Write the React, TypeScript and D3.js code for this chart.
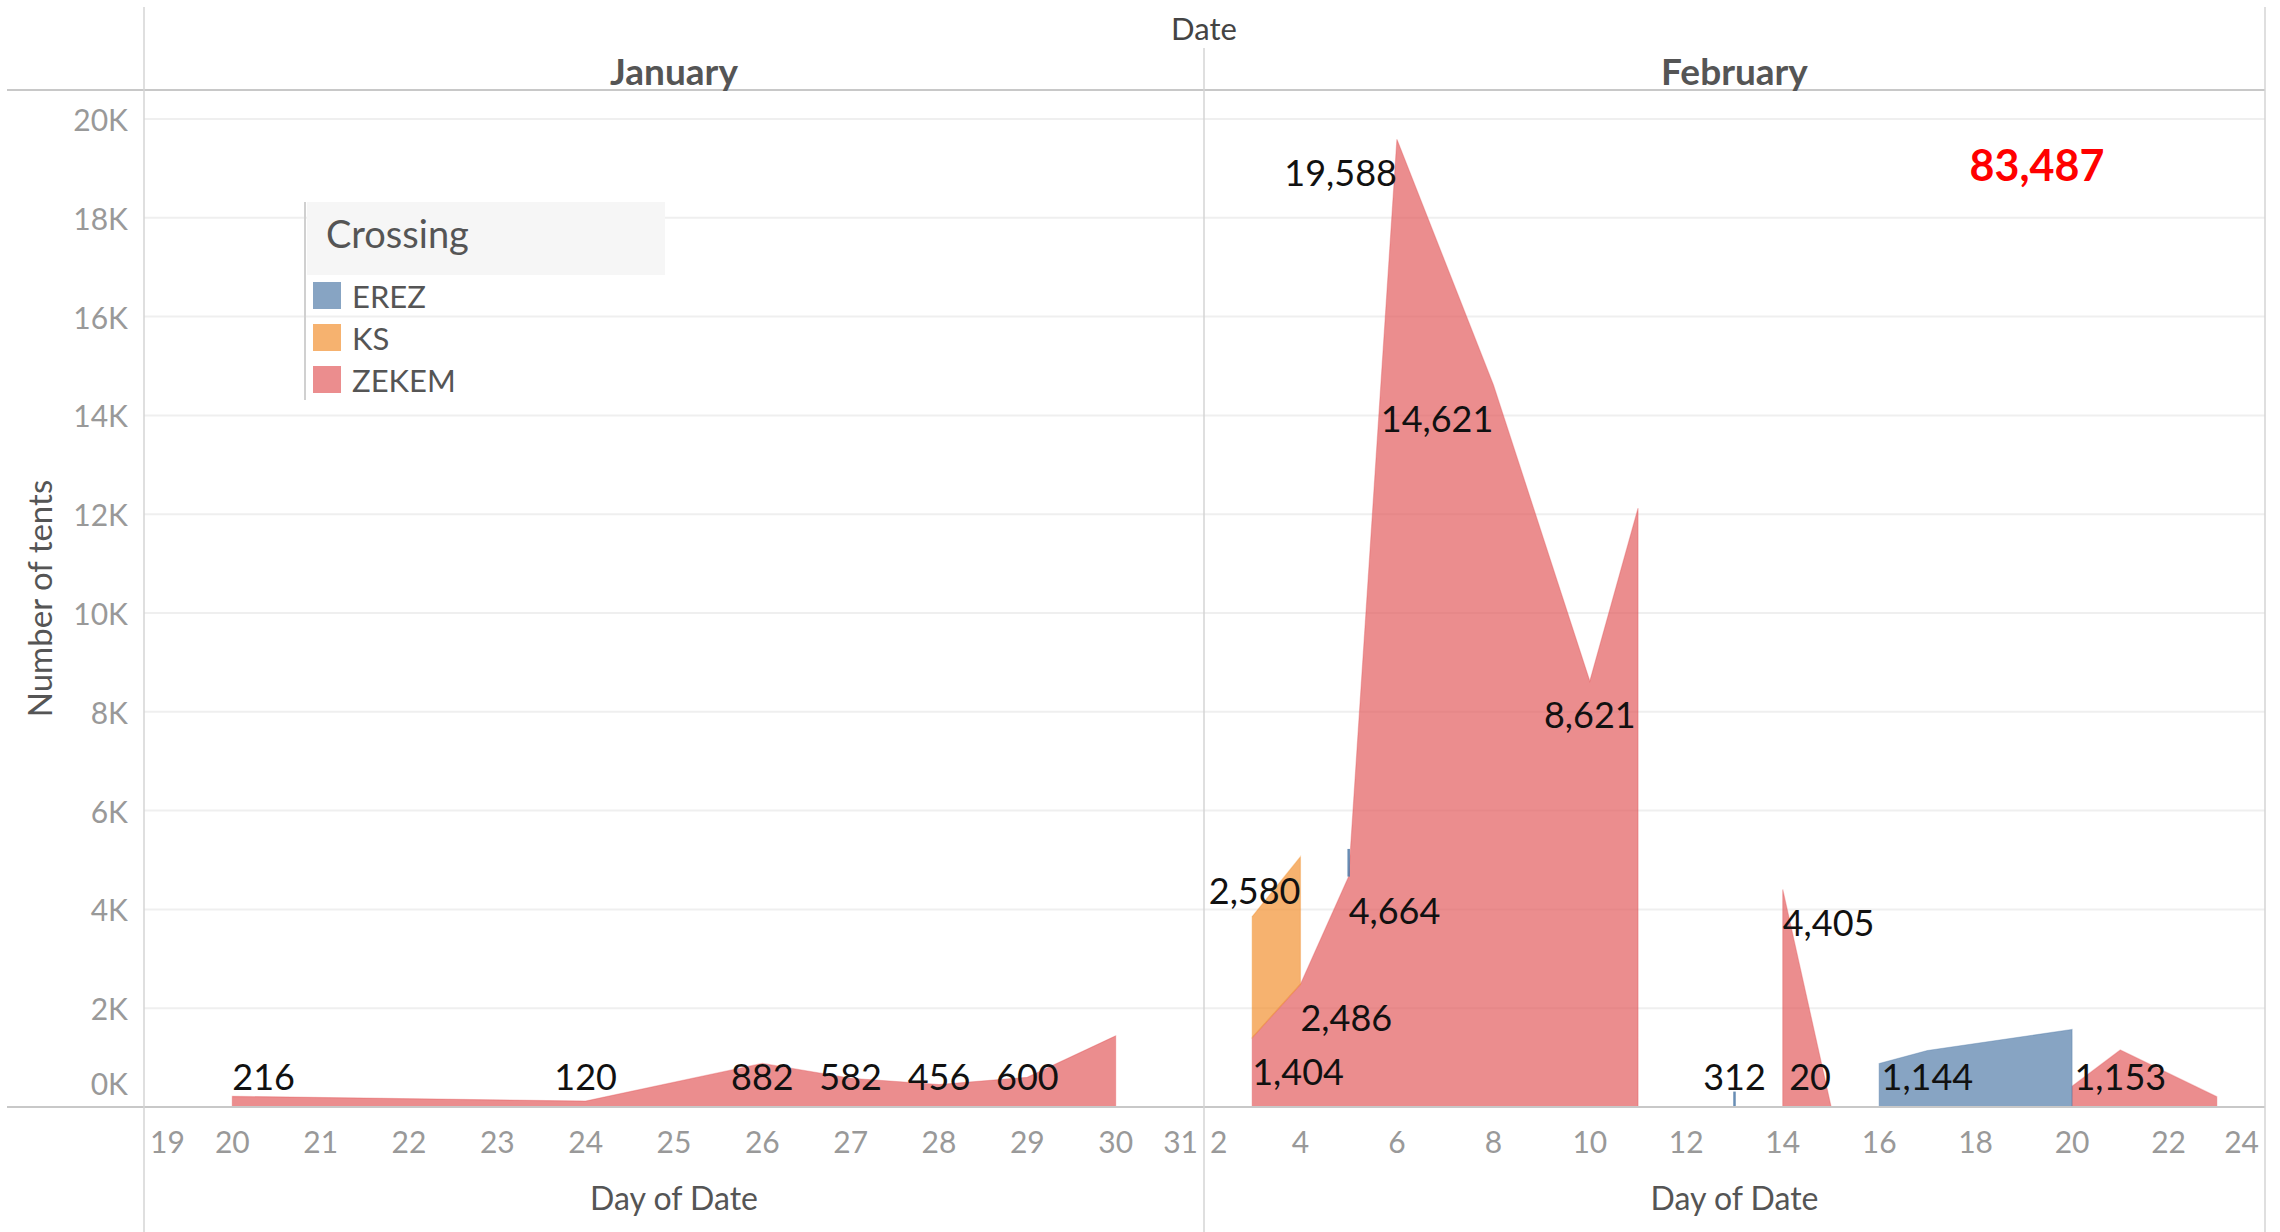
import React, { useEffect } from 'react';
import * as d3 from 'd3';

// ---------- data ----------
const SERIES = ['EREZ', 'KS', 'ZEKEM'];
const SERIES_COLORS = ['#4e79a7', '#f28e2b', '#e15759'];
const STACK_ORDER = ['ZEKEM', 'KS', 'EREZ']; // bottom to top

const MONTHS = ['January', 'February'];
const JAN_DOMAIN = [19, 31];
const FEB_DOMAIN = [2, 24];
const JAN_TICKS = [19, 20, 21, 22, 23, 24, 25, 26, 27, 28, 29, 30, 31];
const FEB_TICKS = [2, 4, 6, 8, 10, 12, 14, 16, 18, 20, 22, 24];
const Y_TICKS = [0, 2000, 4000, 6000, 8000, 10000, 12000, 14000, 16000, 18000, 20000];

// [day, tents] — each inner array is one unbroken area segment
const ZEKEM_JAN = [[[20, 216], [24, 120], [26, 882], [27, 582], [28, 456], [29, 600], [30, 1440]]];
const ZEKEM_FEB = [
  [[3, 1404], [4, 2486], [5, 4664], [6, 19588], [8, 14621], [10, 8621], [11, 12120]],
  [[14, 4405], [15, 20]],
  [[20, 420], [21, 1153], [23, 210]],
];
const KS_FEB = [[[3, 2450], [4, 2580]]];
const EREZ_FEB = [[[5, 560]], [[13, 312]], [[16, 880], [17, 1144], [20, 1570]]];

const TOTAL_TENTS = 83487;

// which points carry a value label: [series, month, day, anchor]
const LABELS = [
  ['ZEKEM', 'January', 20, 'start'],
  ['ZEKEM', 'January', 24, 'middle'],
  ['ZEKEM', 'January', 26, 'middle'],
  ['ZEKEM', 'January', 27, 'middle'],
  ['ZEKEM', 'January', 28, 'middle'],
  ['ZEKEM', 'January', 29, 'middle'],
  ['ZEKEM', 'February', 3, 'start'],
  ['ZEKEM', 'February', 4, 'start'],
  ['ZEKEM', 'February', 5, 'start'],
  ['ZEKEM', 'February', 6, 'end'],
  ['ZEKEM', 'February', 8, 'end'],
  ['ZEKEM', 'February', 10, 'middle'],
  ['ZEKEM', 'February', 14, 'start'],
  ['ZEKEM', 'February', 15, 'end'],
  ['ZEKEM', 'February', 21, 'middle'],
  ['KS', 'February', 4, 'end'],
  ['EREZ', 'February', 13, 'middle'],
  ['EREZ', 'February', 17, 'middle'],
];

// ---------- layout ----------
const W = 2280;
const H = 1232;
const LEFT = 144;
const MID = 1204;
const RIGHT = 2265;
const BASE_Y = 1107;
const TOP_Y = 119;
const HEADER_Y = 90;
const FONT = "Lato, 'Open Sans', 'DejaVu Sans', sans-serif";

type Seg = { series: string; month: string; pts: number[][] };

const segments: Seg[] = [
  ...ZEKEM_JAN.map((p) => ({ series: 'ZEKEM', month: 'January', pts: p })),
  ...ZEKEM_FEB.map((p) => ({ series: 'ZEKEM', month: 'February', pts: p })),
  ...KS_FEB.map((p) => ({ series: 'KS', month: 'February', pts: p })),
  ...EREZ_FEB.map((p) => ({ series: 'EREZ', month: 'February', pts: p })),
];

function findPoint(series: string, month: string, day: number) {
  for (const s of segments) {
    if (s.series !== series || s.month !== month) continue;
    const i = s.pts.findIndex((p) => p[0] === day);
    if (i >= 0) return { seg: s, i };
  }
  return null;
}

function baseOf(series: string, month: string, day: number): number {
  const own = findPoint(series, month, day);
  const k = STACK_ORDER.indexOf(series);
  let b = 0;
  for (let j = 0; j < k; j++) {
    const lower = findPoint(STACK_ORDER[j], month, day);
    if (!lower) continue;
    const ownEnds = own && own.i === own.seg.pts.length - 1 && own.seg.pts.length > 1;
    const lowerStarts = lower.i === 0 && lower.seg.pts.length > 1;
    if (ownEnds && lowerStarts) continue; // segments only touch at the boundary
    b += lower.seg.pts[lower.i][1];
  }
  return b;
}

const y = d3.scaleLinear().domain([0, 20000]).range([BASE_Y, TOP_Y]);
const xScales: Record<string, d3.ScaleLinear<number, number>> = {
  January: d3.scaleLinear().domain(JAN_DOMAIN).range([LEFT, MID]),
  February: d3.scaleLinear().domain(FEB_DOMAIN).range([MID, RIGHT]),
};
const color = d3.scaleOrdinal<string, string>().domain(SERIES).range(SERIES_COLORS);
const fmt = d3.format(',');
const fmtK = (v: number) => `${v / 1000}K`;

export default function App() {
  useEffect(() => {
    document.body.style.margin = '0';
  }, []);

  const stackedSegs = segments.map((s) => ({
    ...s,
    rows: s.pts.map(([day, v]) => {
      const b = baseOf(s.series, s.month, day);
      return { day, v, b };
    }),
  }));
  // draw order: bottom of the stack first
  stackedSegs.sort((a, b) => STACK_ORDER.indexOf(a.series) - STACK_ORDER.indexOf(b.series));

  const monthTicks: Record<string, number[]> = { January: JAN_TICKS, February: FEB_TICKS };
  const monthCenters: Record<string, number> = { January: (LEFT + MID) / 2, February: (MID + RIGHT) / 2 };

  return (
    <svg width={W} height={H} style={{ position: 'absolute', left: 0, top: 0, background: '#fff' }} fontFamily={FONT}>
      <rect x={0} y={0} width={W} height={H} fill="#fff" />

      {/* gridlines */}
      {Y_TICKS.filter((t) => t > 0).map((t) => (
        <line key={t} x1={LEFT} x2={RIGHT} y1={y(t)} y2={y(t)} stroke="#efefef" strokeWidth={2} />
      ))}

      {/* areas */}
      {stackedSegs.map((s, i) => {
        const x = xScales[s.month];
        const c = color(s.series);
        if (s.rows.length === 1) {
          const r = s.rows[0];
          return (
            <line key={i} x1={x(r.day)} x2={x(r.day)} y1={y(r.b)} y2={y(r.b + r.v)} stroke={c} strokeOpacity={0.85} strokeWidth={2.5} />
          );
        }
        const area = d3
          .area<{ day: number; v: number; b: number }>()
          .x((d) => x(d.day))
          .y0((d) => y(d.b))
          .y1((d) => y(d.b + d.v));
        return (
          <path key={i} d={area(s.rows) || ''} fill={c} fillOpacity={0.68} stroke={c} strokeOpacity={0.35} strokeWidth={1.2} />
        );
      })}

      {/* frame lines */}
      <line x1={7} x2={RIGHT} y1={HEADER_Y} y2={HEADER_Y} stroke="#c8c8c8" strokeWidth={2} />
      <line x1={7} x2={RIGHT} y1={BASE_Y} y2={BASE_Y} stroke="#c8c8c8" strokeWidth={2} />
      <line x1={LEFT} x2={LEFT} y1={7} y2={H} stroke="#d4d4d4" strokeWidth={1.5} />
      <line x1={MID} x2={MID} y1={48} y2={H} stroke="#d4d4d4" strokeWidth={1.5} />
      <line x1={RIGHT} x2={RIGHT} y1={7} y2={H} stroke="#d4d4d4" strokeWidth={1.5} />

      {/* header */}
      <text x={MID} y={28} textAnchor="middle" dominantBaseline="central" fontSize={31} fill="#444">Date</text>
      {MONTHS.map((m) => (
        <text key={m} x={monthCenters[m]} y={70} textAnchor="middle" dominantBaseline="central" fontSize={37} fontWeight="bold" fill="#555">
          {m}
        </text>
      ))}

      {/* y axis */}
      {Y_TICKS.map((t) => (
        <text key={t} x={128} y={t === 0 ? y(0) - 24 : y(t)} textAnchor="end" dominantBaseline="central" fontSize={30} fill="#999">
          {fmtK(t)}
        </text>
      ))}
      <text transform={`translate(39, ${(HEADER_Y + BASE_Y) / 2}) rotate(-90)`} textAnchor="middle" dominantBaseline="central" fontSize={33} fill="#555">
        Number of tents
      </text>

      {/* x axes */}
      {MONTHS.map((m) => {
        const x = xScales[m];
        const [d0, d1] = x.domain();
        return (
          <g key={m}>
            {monthTicks[m].map((t) => {
              const anchor = t === d0 ? 'start' : t === d1 ? 'end' : 'middle';
              const px = t === d0 ? x(t) + 6 : t === d1 ? x(t) - 6 : x(t);
              return (
                <text key={t} x={px} y={1141} textAnchor={anchor} dominantBaseline="central" fontSize={30} fill="#999">
                  {t}
                </text>
              );
            })}
            <text x={monthCenters[m]} y={1197} textAnchor="middle" dominantBaseline="central" fontSize={32} fill="#555">
              Day of Date
            </text>
          </g>
        );
      })}

      {/* value labels */}
      {LABELS.map(([series, month, day, anchor], i) => {
        const p = findPoint(series as string, month as string, day as number);
        if (!p) return null;
        const v = p.seg.pts[p.i][1];
        const b = baseOf(series as string, month as string, day as number);
        const cy = Math.min(y(b + v) + 33, y(0) - 31);
        return (
          <text key={i} x={xScales[month as string](day as number)} y={cy} textAnchor={anchor as string} dominantBaseline="central" fontSize={36} fill="#111">
            {fmt(v)}
          </text>
        );
      })}

      {/* total */}
      <text x={2037} y={164} textAnchor="middle" dominantBaseline="central" fontSize={43} fontWeight="bold" fill="#ff0000">
        {fmt(TOTAL_TENTS)}
      </text>

      {/* legend */}
      <g>
        <rect x={307} y={202} width={358} height={73} fill="#f6f6f6" />
        <line x1={305} x2={305} y1={202} y2={400} stroke="#d0d0d0" strokeWidth={2} />
        <text x={326} y={233} dominantBaseline="central" fontSize={38} fill="#555">Crossing</text>
        {SERIES.map((s, i) => (
          <g key={s} transform={`translate(313, ${282 + i * 42})`}>
            <rect width={28} height={27} fill={color(s)} fillOpacity={0.68} />
            <text x={39} y={14} dominantBaseline="central" fontSize={31} fill="#555">{s}</text>
          </g>
        ))}
      </g>
    </svg>
  );
}
